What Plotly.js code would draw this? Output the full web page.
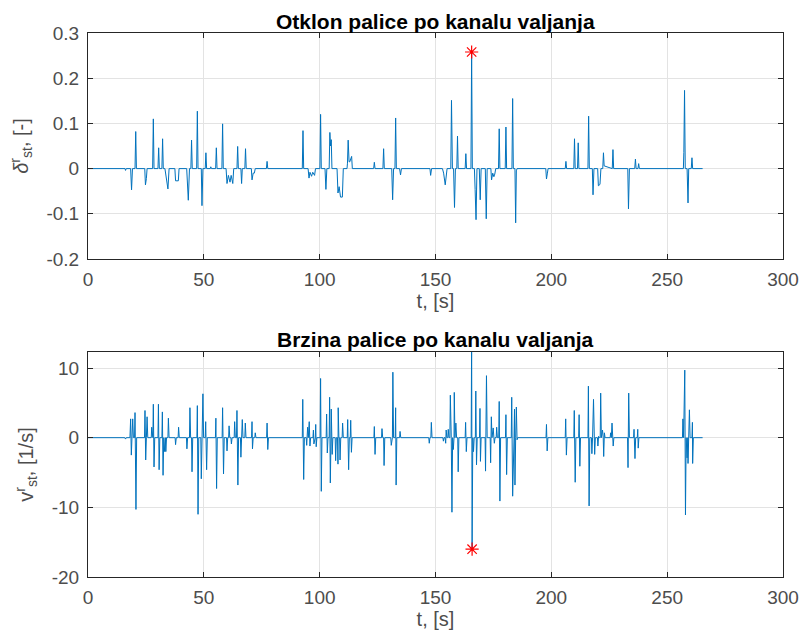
<!DOCTYPE html>
<html>
<head>
<meta charset="utf-8">
<script src="https://cdn.plot.ly/plotly-3.0.1.min.js"></script>
<style>html,body{margin:0;padding:0;background:#fff;}#chart{width:803px;height:640px;}</style>
</head>
<body>
<div id="chart"></div>
<script>
// Top panel: stick deflection (roll channel)
const tDefl = [0,16.0,16.2,16.5,18.4,18.8,19.2,20.3,20.6,20.9,24.5,24.8,25.2,25.5,27.9,28.2,28.5,30.2,30.5,30.8,31.9,32.2,32.5,33.2,34.5,35.0,37.5,37.8,39.0,39.3,42.6,43.3,43.8,44.4,44.7,45.0,46.9,47.2,47.5,48.9,49.2,49.6,50.6,50.9,51.2,52.8,53.0,53.3,55.1,55.4,55.7,57.8,58.1,58.4,59.6,60.0,60.6,61.3,61.8,62.5,62.9,64.3,64.6,64.9,66.0,66.3,66.6,67.7,68.0,68.3,70.5,70.8,71.3,71.8,72.2,77.0,77.3,77.6,92.5,92.8,93.1,95.0,95.4,95.8,96.5,97.0,97.8,98.2,100.1,100.4,100.7,102.3,102.7,103.1,104.1,104.4,104.7,105.0,105.3,107.5,107.9,108.4,109.0,109.8,110.2,111.8,112.0,112.3,112.7,113.0,113.8,114.1,123.3,123.6,123.9,127.3,127.6,127.9,131.1,131.5,131.9,132.5,132.8,133.1,134.5,134.9,135.3,147.6,147.9,148.3,153.0,153.5,154.2,154.6,155.0,156.6,156.9,157.3,157.8,158.2,158.6,159.2,159.5,159.8,162.8,163.1,163.4,165.3,165.6,165.9,166.8,167.1,167.5,167.9,168.9,169.3,169.7,171.5,171.9,172.3,173.9,174.2,174.7,175.2,175.6,176.0,177.2,177.5,177.8,180.1,180.4,180.7,183.0,183.3,183.6,184.3,184.6,184.9,185.2,197.6,197.9,198.3,198.6,206.0,206.3,206.6,209.7,210.0,210.3,211.3,211.6,211.9,215.8,216.1,216.4,217.7,218.0,218.4,220.0,220.3,221.0,221.4,222.2,222.5,222.8,226.3,226.6,226.9,233.0,233.3,233.7,236.0,236.3,236.6,237.4,237.7,238.0,257.0,257.2,257.5,257.8,258.6,258.8,259.0,259.3,260.4,260.7,261.0,265.3];
const dDefl = [0,0,-0.004,0,0,-0.047,0,0,0.082,0,0,-0.036,-0.022,0,0,0.110,0,0,0.046,0,0,0.066,0,0,-0.045,0,0,-0.027,-0.027,0,0,-0.070,0,0,0.063,0,0,0.127,0,0,-0.082,0,0,0.035,0,0,0.004,0,0,0.046,0,0,0.099,0,0,-0.033,-0.015,-0.030,-0.015,-0.033,0,0,0.049,0,0,-0.033,0,0,0.044,0,0,-0.025,-0.010,-0.010,0,0,0.016,0,0,0.084,0,0,-0.021,-0.008,-0.017,-0.008,-0.015,0,0,0.120,0,0,-0.046,0,0,0.080,0.050,0.064,0,0,-0.054,-0.040,-0.063,-0.063,0,0,0.012,0.063,0.015,0.015,0.027,0,0,0.014,0,0,0.044,0,0,-0.069,0,0,0.112,0,0,-0.014,0,0,-0.015,0,0,-0.010,-0.036,-0.020,0,0,0.151,0,0,-0.086,0,0,0.072,0,0,0.033,0,0,0.258,0,0,-0.046,-0.113,0,0,-0.069,0,0,-0.111,0,0,-0.025,-0.010,-0.018,-0.012,0,0,0.088,0,0,0.092,0,0,0.155,0,0,-0.120,-0.005,0,0,-0.023,-0.010,0,0,0.016,0,0,0.066,0,0,0.057,0,0,0.116,0,0,-0.058,0,0,-0.038,-0.035,0,0,0.035,0.006,0,0.042,0,0,-0.089,0,0,0.021,0,0,0.011,0,0,0.036,0.173,0,0,-0.060,-0.076,0,0,0.024,0,0];

// Bottom panel: stick rate (roll channel)
const tRate = [0,15.9,16.2,16.5,18.1,18.4,18.7,19.0,19.3,19.6,20.1,20.3,20.7,21.0,24.4,24.6,24.9,25.2,25.5,25.8,27.3,27.5,27.8,28.0,28.2,28.5,28.8,30.2,30.4,30.7,31.0,31.9,32.1,32.4,32.7,33.1,33.4,33.6,33.9,34.5,34.7,35.0,37.6,37.8,38.1,38.9,39.1,39.4,42.5,42.7,43.0,43.8,44.0,44.3,44.7,44.9,45.2,47.0,47.2,47.5,47.8,48.7,48.9,49.3,49.6,49.9,50.6,50.8,51.2,51.5,55.0,55.2,55.5,55.8,57.9,58.1,58.5,58.8,59.8,60.0,60.3,60.7,60.9,61.2,61.7,61.9,62.2,63.1,63.3,63.6,64.1,64.3,64.7,65.0,65.8,66.0,66.3,66.6,66.9,67.7,67.9,68.2,70.6,70.8,71.0,71.3,72.0,72.2,72.5,77.1,77.3,77.6,77.9,92.5,92.7,93.1,93.4,94.2,94.4,94.8,95.1,95.5,95.8,96.1,97.1,97.3,97.5,97.8,98.1,98.3,98.5,98.8,100.2,100.4,100.7,101.0,102.8,103.0,103.3,103.6,104.1,104.3,104.6,104.9,105.0,105.4,105.7,106.7,106.9,107.2,107.7,107.9,108.0,108.3,108.6,108.8,109.1,109.7,109.9,110.2,111.9,112.1,112.5,112.8,113.2,113.4,113.7,114.0,123.4,123.6,123.9,124.2,126.7,126.9,127.2,127.6,127.8,128.1,130.7,130.9,131.2,131.4,131.6,131.9,132.6,132.8,133.0,133.3,134.5,134.7,135.0,147.1,147.3,147.6,148.0,148.2,148.5,153.2,153.4,153.7,154.1,154.4,154.6,154.9,155.3,155.5,155.8,156.2,156.4,156.8,157.1,157.4,157.7,158.0,158.1,158.4,158.8,159.1,159.6,159.8,160.1,162.8,163.0,163.3,163.6,165.4,165.6,165.8,166.1,166.4,166.7,167.2,167.4,167.7,168.0,169.0,169.2,169.4,169.7,171.4,171.6,172.0,172.3,173.6,173.8,174.1,174.4,174.9,175.2,175.4,175.7,176.2,176.4,176.7,177.3,177.5,177.8,178.1,180.2,180.4,180.7,181.0,182.7,182.9,183.3,183.6,183.9,184.1,184.3,184.6,184.9,185.2,185.5,197.7,197.9,198.2,198.5,206.0,206.2,206.5,206.8,209.7,209.9,210.3,210.6,211.8,212.0,212.3,212.6,215.8,216.0,216.3,216.6,217.3,217.5,217.8,218.2,218.7,219.0,219.9,220.1,220.4,220.7,221.1,221.3,221.6,222.1,222.4,222.6,222.9,223.2,225.4,225.6,225.9,226.2,226.7,227.0,232.9,233.1,233.4,233.7,235.5,235.7,236.1,236.4,237.1,237.3,237.5,237.8,256.6,256.8,257.1,257.6,257.9,258.2,258.6,258.9,259.0,259.6,259.9,260.7,260.9,261.0,261.3,265.3];
const vRate = [0,0,-0.2,0,0,2.7,-2.5,0,2.7,0,0,3.6,-10.3,0,0,3.9,-3.2,0,3.0,0,0,1.5,0,0,4.8,-4.2,0,0,4.8,-4.6,0,0,3.7,-5.4,0,-2.0,0,-2.0,0,0,2.8,0,0,-1.0,0,0,1.5,0,0,-1.6,0,0,4.3,0,0,-4.9,0,0,4.6,-11.0,0,0,-5.9,0,6.3,0,0,2.3,-4.6,0,0,2.8,-7.3,0,0,4.3,-5.2,0,0,-1.9,0,0,1.7,0,0,-0.9,0,0,2.3,0,0,3.9,-6.8,0,0,-2.8,0,2.6,0,0,2.1,0,0,2.3,-1.6,0,0,0.7,0,0,2.1,-1.7,0,0,5.5,-6.0,0,0,-1.1,1.5,0,2.3,-1.2,0,0,1.1,-0.9,0,0,1.9,-1.3,0,0,8.5,-7.7,0,0,3.4,-2.2,0,0,5.8,-6.5,0,4.1,-2.4,0,0,-3.3,0,0,-3.8,4.3,0,0,-3.2,0,0,2.1,0,0,2.6,-4.6,0,0,2.5,-2.1,0,0,1.6,-2.4,0,0,1.3,0,0,-4.0,0,0,-1.1,0,0,9.4,0,0,4.3,-6.8,0,0,0.9,0,0,-0.8,0,0,2.2,0,0,-0.5,0,0,-0.8,1.1,0,0,1.2,0,0,6.1,0,-10.7,0,-1.7,0,6.5,0,2.1,0,0,-4.9,0,0,2.2,-2.0,0,0,14.5,-16.0,0,-2.0,0,0,6.7,-3.9,0,0,4.2,-3.4,0,0,-4.8,8.9,0,0,-3.6,3.0,0,1.4,0,-0.8,0,0,1.5,0,0,5.2,-9.1,0,0,3.3,-5.3,0,0,5.8,-8.4,0,0,4.1,-6.8,0,4.4,-0.3,0,0,1.9,-1.9,0,0,2.7,-2.5,0,0,3.9,-6.4,0,0,3.3,-4.1,0,0,7.4,-9.8,0,0,-2.3,0,5.5,-2.4,0,0,-1.2,0.2,0,0,6.4,0,1.1,0,-2.7,0.7,0,0,0.7,0,2.1,-1.2,0,0,-4.3,6.4,0,0,1.2,-3.0,0,0,1.2,-1.5,0,0,2.7,0,9.7,-11.1,0,-2.9,0,-3.7,4.0,0,0,2.2,-3.7,0,0];

// Highlighted extreme points
const maxDeflT = [165.6], maxDeflV = [0.258];
const minRateT = [165.8], minRateV = [-16.0];

const xTicks = [0,50,100,150,200,250,300];
const xTickText = ['0','50','100','150','200','250','300'];
const yTopTicks = [-0.2,-0.1,0,0.1,0.2,0.3];
const yTopText = ['-0.2','-0.1','0','0.1','0.2','0.3'];
const yBotTicks = [-20,-10,0,10];
const yBotText = ['-20','-10','0','10'];

const lineColor = '#0072BD';
const traces = [
  {x: tDefl, y: dDefl, type: 'scatter', mode: 'lines', line: {color: lineColor, width: 1}, xaxis: 'x', yaxis: 'y', hoverinfo: 'skip'},
  {x: maxDeflT, y: maxDeflV, type: 'scatter', mode: 'markers', marker: {symbol: 'asterisk-open', color: '#ff0000', size: 11, line: {color: '#ff0000', width: 1.2}}, xaxis: 'x', yaxis: 'y'},
  {x: tRate, y: vRate, type: 'scatter', mode: 'lines', line: {color: lineColor, width: 1}, xaxis: 'x2', yaxis: 'y2', hoverinfo: 'skip'},
  {x: minRateT, y: minRateV, type: 'scatter', mode: 'markers', marker: {symbol: 'asterisk-open', color: '#ff0000', size: 11, line: {color: '#ff0000', width: 1.2}}, xaxis: 'x2', yaxis: 'y2'}
];

const fam = 'Liberation Sans, Arial, sans-serif';
const tickFont = {family: fam, size: 19, color: '#4d4d4d'};
const titleFont = {family: fam, size: 20, color: '#4d4d4d'};
const commonAxis = {
  showline: true, linecolor: '#262626', linewidth: 1, mirror: 'ticks',
  ticks: 'inside', ticklen: 5, tickcolor: '#262626', tickwidth: 1,
  showgrid: true, gridcolor: '#e3e3e3', gridwidth: 1, zeroline: false,
  tickfont: tickFont
};
const xAxisExtra = {range: [0, 300], tickvals: xTicks, ticktext: xTickText, ticklabelstandoff: 3,
  title: {text: 't, [s]', font: titleFont, standoff: 2}};
const xd = [88/803, 783/803];
const layout = {
  width: 803, height: 640,
  margin: {l: 0, r: 0, t: 0, b: 0},
  paper_bgcolor: '#ffffff', plot_bgcolor: '#ffffff',
  showlegend: false,
  xaxis: Object.assign({}, commonAxis, xAxisExtra, {domain: xd, anchor: 'y'}),
  yaxis: Object.assign({}, commonAxis, {domain: [1-259/640, 1-33/640], anchor: 'x', range: [-0.2, 0.3], tickvals: yTopTicks, ticktext: yTopText,
    ticklabelstandoff: 4, title: {text: '<i>δ</i><sup>r</sup><sub>st</sub>, [-]', font: titleFont, standoff: 12}}),
  xaxis2: Object.assign({}, commonAxis, xAxisExtra, {domain: xd, anchor: 'y2'}),
  yaxis2: Object.assign({}, commonAxis, {domain: [1-577/640, 1-352/640], anchor: 'x2', range: [-20, 12.3], tickvals: yBotTicks, ticktext: yBotText,
    ticklabelstandoff: 4, title: {text: 'v<sup>r</sup><sub>st</sub>, [1/s]', font: titleFont, standoff: 12}}),
  annotations: [
    {text: '<b>Otklon palice po kanalu valjanja</b>', xref: 'paper', yref: 'paper', x: 435.5/803, y: 1-21/640, xanchor: 'center', yanchor: 'middle', showarrow: false,
      font: {family: fam, size: 21, color: '#000000'}},
    {text: '<b>Brzina palice po kanalu valjanja</b>', xref: 'paper', yref: 'paper', x: 435.5/803, y: 1-339/640, xanchor: 'center', yanchor: 'middle', showarrow: false,
      font: {family: fam, size: 21, color: '#000000'}}
  ]
};
Plotly.newPlot('chart', traces, layout, {staticPlot: true, displayModeBar: false});
</script>
</body>
</html>
